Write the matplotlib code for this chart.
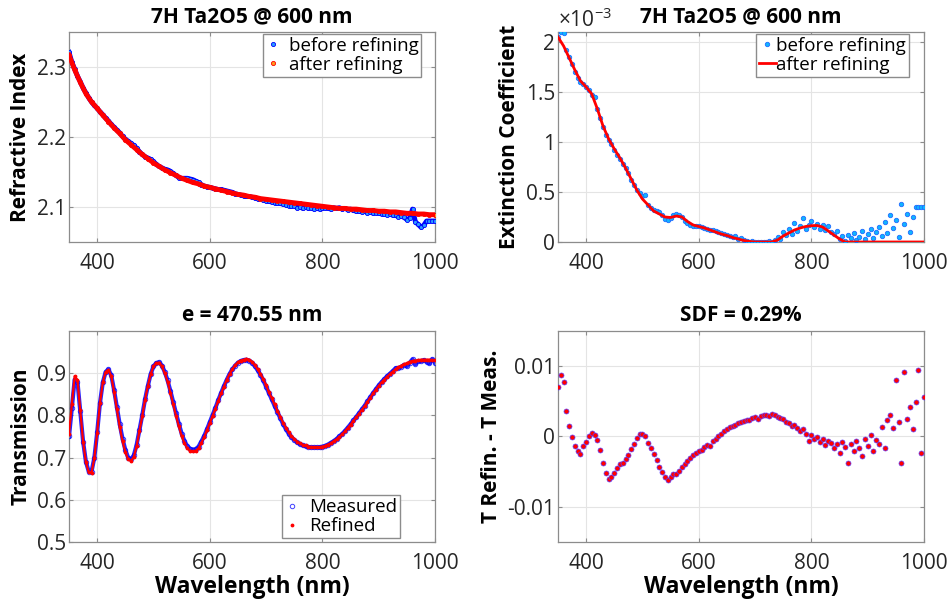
import numpy as np
import matplotlib
matplotlib.use("Agg")
import matplotlib.pyplot as plt
from matplotlib.ticker import FuncFormatter

plt.rcParams['font.family'] = ['Open Sans', 'DejaVu Sans']
plt.rcParams['axes.unicode_minus'] = False
plt.rcParams['mathtext.fontset'] = 'custom'
plt.rcParams['mathtext.rm'] = 'Open Sans'
plt.rcParams['mathtext.it'] = 'Open Sans'

# wavelength grids (nm)
wl5 = np.arange(350, 1001, 5)
wl10 = np.arange(350, 1001, 10)

# refractive index
n_before = [2.321, 2.307, 2.297, 2.287, 2.279, 2.270, 2.263, 2.256, 2.250, 2.245,
            2.241, 2.236, 2.232, 2.227, 2.223, 2.218, 2.214, 2.210, 2.206, 2.201,
            2.197, 2.194, 2.191, 2.188, 2.184, 2.179, 2.175, 2.172, 2.170, 2.168,
            2.165, 2.161, 2.158, 2.156, 2.154, 2.153, 2.151, 2.148, 2.145, 2.142,
            2.141, 2.141, 2.141, 2.140, 2.139, 2.137, 2.135, 2.132, 2.130, 2.129,
            2.128, 2.127, 2.126, 2.125, 2.125, 2.124, 2.123, 2.122, 2.121, 2.119,
            2.118, 2.117, 2.116, 2.115, 2.115, 2.114, 2.113, 2.112, 2.111, 2.110,
            2.109, 2.108, 2.107, 2.106, 2.106, 2.105, 2.104, 2.103, 2.102, 2.101,
            2.102, 2.099, 2.100, 2.098, 2.100, 2.098, 2.099, 2.097, 2.098, 2.097,
            2.098, 2.099, 2.098, 2.097, 2.099, 2.098, 2.099, 2.097, 2.098, 2.096,
            2.097, 2.095, 2.094, 2.094, 2.093, 2.094, 2.092, 2.093, 2.091, 2.092,
            2.091, 2.090, 2.090, 2.089, 2.090, 2.088, 2.088, 2.086, 2.087, 2.085,
            2.082, 2.084, 2.097, 2.079, 2.075, 2.071, 2.074, 2.080, 2.080, 2.080,
            2.080]
n_after = [2.317, 2.296, 2.278, 2.262, 2.250, 2.241, 2.231, 2.222, 2.213, 2.205,
           2.196, 2.189, 2.182, 2.175, 2.169, 2.163, 2.158, 2.153, 2.149, 2.145,
           2.141, 2.138, 2.135, 2.133, 2.130, 2.128, 2.126, 2.124, 2.122, 2.120,
           2.118, 2.117, 2.115, 2.114, 2.112, 2.111, 2.110, 2.109, 2.108, 2.107,
           2.106, 2.105, 2.104, 2.103, 2.102, 2.101, 2.100, 2.099, 2.098, 2.098,
           2.097, 2.097, 2.096, 2.095, 2.095, 2.094, 2.094, 2.093, 2.093, 2.092,
           2.091, 2.091, 2.090, 2.090, 2.089, 2.089]

# extinction coefficient (x1e-3)
k_before = [2.05, 2.10, 2.09, 1.92, 1.85, 1.78, 1.70, 1.64, 1.60, 1.58,
            1.55, 1.52, 1.47, 1.45, 1.33, 1.24, 1.15, 1.07, 1.02, 0.98,
            0.92, 0.87, 0.83, 0.78, 0.74, 0.69, 0.62, 0.57, 0.52, 0.49,
            0.46, 0.47, 0.37, 0.34, 0.32, 0.31, 0.30, 0.27, 0.23, 0.22,
            0.24, 0.27, 0.28, 0.27, 0.25, 0.21, 0.19, 0.17, 0.16, 0.16,
            0.16, 0.15, 0.14, 0.13, 0.12, 0.12, 0.11, 0.10, 0.09, 0.08,
            0.07, 0.06, 0.05, 0.06, 0.03, 0.04, 0.02, 0.01, 0.00, 0.01,
            0.00, 0.00, 0.00, 0.00, 0.00, 0.01, 0.00, 0.02, 0.05, 0.03,
            0.10, 0.07, 0.13, 0.08, 0.19, 0.11, 0.16, 0.24, 0.13, 0.17,
            0.21, 0.15, 0.18, 0.13, 0.17, 0.12, 0.16, 0.10, 0.08, 0.11,
            0.03, 0.06, 0.01, 0.07, 0.04, 0.09, 0.02, 0.05, 0.11, 0.03,
            0.08, 0.13, 0.04, 0.10, 0.15, 0.06, 0.20, 0.09, 0.27, 0.14,
            0.22, 0.05, 0.38, 0.18, 0.28, 0.10, 0.25, 0.35, 0.35, 0.35,
            0.35]
k_after = [2.05, 1.96, 1.84, 1.72, 1.61, 1.55, 1.48, 1.33, 1.16, 1.03,
           0.93, 0.84, 0.74, 0.63, 0.52, 0.43, 0.37, 0.31, 0.28, 0.25,
           0.245, 0.26, 0.25, 0.205, 0.17, 0.155, 0.14, 0.12, 0.10, 0.08,
           0.065, 0.045, 0.03, 0.015, 0.005, 0.0, 0.0, 0.0, 0.0, 0.02,
           0.06, 0.09, 0.12, 0.14, 0.155, 0.163, 0.165, 0.15, 0.11, 0.07,
           0.03, 0.0, 0.0, 0.0, 0.0, 0.0, 0.0, 0.0, 0.0, 0.0,
           0.0, 0.0, 0.0, 0.0, 0.0, 0.0]

# transmission
t_meas = [0.750, 0.818, 0.885, 0.880, 0.810, 0.738, 0.690, 0.667, 0.667, 0.700,
          0.760, 0.830, 0.878, 0.903, 0.909, 0.895, 0.860, 0.819, 0.779, 0.745,
          0.718, 0.700, 0.696, 0.705, 0.730, 0.765, 0.800, 0.838, 0.870, 0.898,
          0.916, 0.924, 0.926, 0.918, 0.903, 0.883, 0.858, 0.831, 0.805, 0.780,
          0.757, 0.739, 0.727, 0.721, 0.719, 0.720, 0.726, 0.738, 0.751, 0.767,
          0.784, 0.801, 0.818, 0.836, 0.853, 0.869, 0.884, 0.898, 0.909, 0.918,
          0.925, 0.929, 0.931, 0.932, 0.930, 0.925, 0.917, 0.907, 0.896, 0.883,
          0.868, 0.853, 0.838, 0.823, 0.808, 0.794, 0.780, 0.768, 0.757, 0.748,
          0.742, 0.736, 0.732, 0.729, 0.727, 0.725, 0.724, 0.724, 0.724, 0.724,
          0.726, 0.728, 0.731, 0.735, 0.739, 0.744, 0.750, 0.756, 0.763, 0.771,
          0.779, 0.788, 0.796, 0.805, 0.814, 0.823, 0.833, 0.843, 0.853, 0.862,
          0.871, 0.879, 0.886, 0.893, 0.899, 0.905, 0.912, 0.912, 0.915, 0.920,
          0.916, 0.925, 0.933, 0.921, 0.929, 0.928, 0.931, 0.927, 0.923, 0.933,
          0.925]
t_refined = [0.757, 0.827, 0.893, 0.884, 0.812, 0.738, 0.689, 0.665, 0.664, 0.699,
             0.759, 0.830, 0.878, 0.903, 0.908, 0.893, 0.856, 0.814, 0.773, 0.739,
             0.713, 0.696, 0.692, 0.701, 0.727, 0.762, 0.798, 0.837, 0.870, 0.898,
             0.916, 0.924, 0.925, 0.916, 0.900, 0.880, 0.854, 0.826, 0.799, 0.774,
             0.751, 0.734, 0.722, 0.716, 0.715, 0.716, 0.722, 0.735, 0.748, 0.765,
             0.782, 0.799, 0.816, 0.835, 0.852, 0.868, 0.884, 0.898, 0.909, 0.919,
             0.926, 0.930, 0.932, 0.934, 0.932, 0.927, 0.919, 0.909, 0.898, 0.886,
             0.871, 0.855, 0.841, 0.826, 0.811, 0.797, 0.783, 0.771, 0.760, 0.751,
             0.744, 0.738, 0.734, 0.730, 0.729, 0.726, 0.725, 0.725, 0.724, 0.724,
             0.726, 0.728, 0.731, 0.734, 0.739, 0.743, 0.749, 0.755, 0.762, 0.770,
             0.778, 0.787, 0.795, 0.804, 0.813, 0.822, 0.832, 0.842, 0.852, 0.861,
             0.870, 0.878, 0.885, 0.892, 0.898, 0.904, 0.910, 0.914, 0.918, 0.921,
             0.924, 0.927, 0.929, 0.930, 0.931, 0.932, 0.932, 0.932, 0.932, 0.931,
             0.931]

# residual T refined - T measured
resid = [0.0071, 0.0088, 0.0078, 0.0036, 0.0015, -0.0001, -0.0014, -0.0021, -0.0025, -0.0013,
         -0.0008, 0.0001, 0.0005, 0.0002, -0.0005, -0.0019, -0.0037, -0.0052, -0.0061, -0.0058,
         -0.0052, -0.0045, -0.0039, -0.0037, -0.0032, -0.0026, -0.0018, -0.0010, -0.0002, 0.0004,
         0.0004, 0.0000, -0.0009, -0.0016, -0.0025, -0.0034, -0.0043, -0.0050, -0.0057, -0.0062,
         -0.0058, -0.0054, -0.0053, -0.0049, -0.0043, -0.0039, -0.0035, -0.0030, -0.0027, -0.0024,
         -0.0021, -0.0019, -0.0015, -0.0012, -0.0014, -0.0007, -0.0003, 0.0000, 0.0003, 0.0008,
         0.0010, 0.0013, 0.0015, 0.0017, 0.0019, 0.0021, 0.0022, 0.0024, 0.0023, 0.0026,
         0.0027, 0.0025, 0.0029, 0.0030, 0.0031, 0.0029, 0.0032, 0.0030, 0.0028, 0.0026,
         0.0025, 0.0021, 0.0019, 0.0015, 0.0017, 0.0012, 0.0008, 0.0010, 0.0003, -0.0006,
         0.0002, -0.0003, -0.0001, -0.0008, -0.0004, -0.0012, -0.0006, -0.0009, -0.0017, -0.0010,
         -0.0024, -0.0008, -0.0015, -0.0037, -0.0011, -0.0020, -0.0006, -0.0016, -0.0028, -0.0004,
         -0.0013, 0.0002, -0.0020, -0.0005, -0.0010, 0.0014, -0.0017, 0.0024, 0.0030, 0.0012,
         0.0080, 0.0020, -0.0037, 0.0091, 0.0025, 0.0042, 0.0011, 0.0049, 0.0095, -0.0023,
         0.0056]

TICK = 15
LAB = 15
TIT = 15
LEG = 13.5

fig = plt.figure(figsize=(9.52, 6.08), dpi=100)
ax1 = fig.add_axes([0.0725, 0.602, 0.3845, 0.3454])
ax2 = fig.add_axes([0.5861, 0.602, 0.3845, 0.3454])
ax3 = fig.add_axes([0.0725, 0.1086, 0.3845, 0.347])
ax4 = fig.add_axes([0.5861, 0.1086, 0.3845, 0.347])

fmt = FuncFormatter(lambda v, p: '%g' % round(v, 6))

for ax in (ax1, ax2, ax3, ax4):
    ax.set_xlim(350, 1000)
    ax.set_xticks([400, 600, 800, 1000])
    ax.grid(True, color='#e4e4e4', linewidth=0.8)
    ax.set_axisbelow(True)
    for s in ax.spines.values():
        s.set_color('#8c8c8c')
        s.set_linewidth(0.9)
    ax.tick_params(direction='in', length=3, color='#8c8c8c', pad=2,
                   labelsize=TICK, labelcolor='#262626', top=True, right=True)
    ax.tick_params(axis='x', pad=8)
    ax.yaxis.set_major_formatter(fmt)

leg_kw = dict(fontsize=LEG, fancybox=False, framealpha=1, edgecolor='#8c8c8c',
              borderaxespad=0, borderpad=0.15, labelspacing=0.05)

# refractive index
ax1.plot(wl5, n_before, '-', color='blue', lw=3.5, zorder=2)
ax1.plot(wl5, n_before, 'o', ms=3, mfc='#2b9bff', mec='blue', mew=0.6,
         label='before refining', zorder=3)
ax1.plot(wl10, n_after, 'o', ms=3, mfc='#ff9a1a', mec='red', mew=0.6,
         label='after refining', zorder=4)
ax1.plot(wl10, n_after, '-', color='red', lw=3.5, zorder=5)
ax1.set_ylim(2.05, 2.35)
ax1.set_yticks([2.1, 2.2, 2.3])
ax1.set_ylabel('Refractive Index', fontsize=LAB, fontweight='bold', labelpad=4)
ax1.set_title('7H Ta2O5 @ 600 nm', fontsize=TIT, fontweight='bold', pad=7)
ax1.legend(loc='upper right', bbox_to_anchor=(0.962, 0.99),
           handlelength=0.7, handletextpad=0.5, **leg_kw)

# extinction coefficient
ax2.plot(wl5, k_before, 'o', ms=3.2, mfc='#10b4ff', mec='#1f6bff', mew=0.6,
         label='before refining', zorder=3)
ax2.plot(wl10, k_after, '-', color='red', lw=2, label='after refining', zorder=4)
ax2.set_ylim(0, 2.1)
ax2.set_yticks([0, 0.5, 1, 1.5, 2])
ax2.set_ylabel('Extinction Coefficient', fontsize=LAB, fontweight='bold', labelpad=4)
ax2.set_title('7H Ta2O5 @ 600 nm', fontsize=TIT, fontweight='bold', pad=7)
ax2.text(0.0, 1.0, r'$\times 10^{-3}$', transform=ax2.transAxes, fontsize=TICK,
         color='#262626', ha='left', va='bottom')
ax2.legend(loc='upper right', bbox_to_anchor=(0.959, 0.99),
           handlelength=0.9, handletextpad=0.05, **leg_kw)

# transmission
ax3.plot(wl5, t_meas, '-', color='blue', lw=3, alpha=0.85, zorder=2)
ax3.plot(wl5, t_meas, 'o', ms=3.2, mfc='none', mec='blue', mew=0.7, alpha=0.75,
         label='Measured', zorder=3)
ax3.plot(wl5, t_refined, '-', color='red', lw=1.6, zorder=4)
ax3.plot(wl5, t_refined, '.', ms=3.5, color='red', label='Refined', zorder=5)
ax3.set_ylim(0.5, 1.0)
ax3.set_yticks([0.5, 0.6, 0.7, 0.8, 0.9])
ax3.set_ylabel('Transmission', fontsize=LAB, fontweight='bold', labelpad=4)
ax3.set_xlabel('Wavelength (nm)', fontsize=LAB + 1.5, fontweight='bold', labelpad=1)
ax3.set_title('e = 470.55 nm', fontsize=TIT, fontweight='bold', pad=7)
ax3.legend(loc='lower right', bbox_to_anchor=(0.904, 0.019),
           handlelength=0.8, handletextpad=0.5, **leg_kw)

# residual
ax4.plot(wl5, resid, 'o', ms=3.6, mfc='red', mec='#5a3cff', mew=0.5, zorder=3)
ax4.set_ylim(-0.015, 0.015)
ax4.set_yticks([-0.01, 0, 0.01])
ax4.set_ylabel('T Refin. - T Meas.', fontsize=LAB, fontweight='bold', labelpad=4)
ax4.set_xlabel('Wavelength (nm)', fontsize=LAB + 1.5, fontweight='bold', labelpad=1)
ax4.set_title('SDF = 0.29%', fontsize=TIT, fontweight='bold', pad=7)

fig.savefig('out.png', dpi=100)
